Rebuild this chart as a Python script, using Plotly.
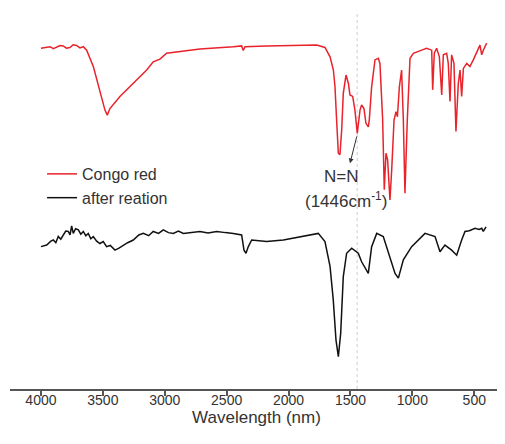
import plotly.graph_objects as go

# Congo red spectrum (wavenumber, relative transmittance)
red_w = [4000, 3960, 3927, 3900, 3873, 3845, 3820, 3795, 3766, 3740, 3712, 3685, 3658, 3631, 3577, 3524,
         3483, 3464, 3443, 3362, 3254, 3146, 3093, 3039, 2985, 2877, 2716, 2446, 2379, 2366, 2352,
         2177, 1908, 1773, 1706, 1665, 1638, 1625, 1612, 1598, 1585, 1571, 1558, 1536, 1517, 1504,
         1482, 1464, 1445, 1423, 1410, 1391, 1375, 1356, 1348, 1329, 1302, 1275, 1262, 1240, 1227,
         1213, 1200, 1181, 1167, 1148, 1132, 1121, 1105, 1087, 1073, 1060, 1041, 1019, 992, 965,
         925, 885, 844, 836, 823, 804, 782, 763, 750, 723, 710, 696, 683, 664, 648, 629, 615, 602,
         588, 561, 535, 508, 481, 454, 440, 427, 400]
red_t = [87.6, 87.9, 88.0, 87.5, 87.8, 88.3, 88.2, 87.6, 87.8, 88.5, 88.3, 87.7, 88.0, 87.1, 82.9, 76.9,
         71.7, 70.4, 72.1, 75.2, 78.6, 82.0, 84.1, 84.8, 86.3, 86.7, 87.4, 88.0, 88.2, 87.0, 88.0,
         88.2, 88.4, 88.4, 87.8, 85.4, 82.0, 77.7, 69.2, 60.6, 60.2, 66.6, 76.0, 80.7, 78.6, 75.6,
         75.2, 71.7, 65.7, 71.7, 73.0, 72.1, 68.3, 67.4, 69.2, 77.7, 84.6, 85.0, 83.7, 69.2, 51.2,
         60.6, 58.9, 48.6, 56.3, 69.2, 71.3, 70.0, 77.7, 82.0, 69.2, 50.3, 69.2, 85.0, 86.3, 86.7,
         87.1, 87.6, 87.1, 76.9, 86.3, 87.6, 85.4, 75.6, 85.9, 86.3, 83.7, 73.9, 85.9, 83.7, 66.2,
         78.6, 82.0, 75.2, 82.4, 83.7, 82.9, 84.6, 86.3, 88.4, 85.9, 87.1, 88.9]

# After reaction spectrum
blk_w = [4000, 3954, 3920, 3900, 3880, 3860, 3840, 3820, 3800, 3779, 3765, 3752, 3739, 3720, 3698, 3678,
         3658, 3638, 3618, 3597, 3577, 3550, 3524, 3497, 3470, 3440, 3402, 3370, 3335, 3300, 3254,
         3210, 3173, 3130, 3093, 3050, 3012, 2970, 2931, 2890, 2850, 2780, 2716, 2650, 2581, 2510,
         2446, 2379, 2360, 2344, 2325, 2298, 2177, 2042, 1908, 1760, 1706, 1665, 1639, 1617, 1598,
         1579, 1558, 1531, 1490, 1437, 1410, 1369, 1356, 1329, 1288, 1235, 1181, 1140, 1113, 1073,
         1006, 898, 817, 777, 737, 683, 642, 621, 602, 575, 540, 494, 460, 440, 427, 405]
blk_t = [36.6, 37.0, 38.0, 38.3, 37.6, 39.2, 38.5, 39.6, 40.6, 40.5, 39.6, 41.9, 40.0, 41.2, 40.9, 39.8,
         40.5, 39.4, 40.0, 38.6, 39.2, 38.0, 37.4, 37.9, 36.6, 36.9, 35.7, 36.2, 37.0, 37.6, 38.3,
         39.6, 40.0, 39.4, 40.5, 40.0, 40.9, 40.2, 40.0, 40.6, 40.0, 40.2, 40.5, 40.1, 40.5, 40.2,
         40.0, 39.6, 35.7, 34.9, 36.6, 38.3, 37.9, 38.3, 39.2, 40.0, 37.9, 31.5, 22.9, 12.6, 8.3,
         14.3, 28.9, 34.9, 36.2, 34.9, 32.7, 30.2, 29.7, 36.6, 40.0, 39.2, 34.0, 29.7, 28.5, 33.2,
         36.6, 40.0, 39.2, 35.3, 37.0, 35.7, 34.4, 36.6, 38.3, 40.5, 40.7, 41.3, 41.0, 41.3, 40.5, 41.7]

tick_vals = [4000, 3500, 3000, 2500, 2000, 1500, 1000, 500]
tick_text = [str(v) for v in tick_vals]

peak_w = 1446

FONT = "Liberation Sans, Arial, sans-serif"
TXT = "#333333"

fig = go.Figure()
fig.add_trace(go.Scatter(x=red_w, y=red_t, mode="lines", name="Congo red",
                         line=dict(color="#e8232b", width=1.5)))
fig.add_trace(go.Scatter(x=blk_w, y=blk_t, mode="lines", name="after reation",
                         line=dict(color="#111111", width=1.5)))

fig.add_shape(type="line", xref="x", yref="y", x0=peak_w, x1=peak_w, y0=0, y1=97.2,
              line=dict(color="#cccccc", width=1, dash="dot"), layer="below")

# arrow from the band minimum down to the label
fig.add_annotation(x=1504, y=58.0, ax=peak_w, ay=65.3, xref="x", yref="y",
                   axref="x", ayref="y", text="", showarrow=True, arrowhead=2,
                   arrowsize=1, arrowwidth=1, arrowcolor="#333333", standoff=0)
fig.add_annotation(x=1577, y=54.5, xref="x", yref="y", text="N=N", showarrow=False,
                   font=dict(family=FONT, size=17, color=TXT))
fig.add_annotation(x=1536, y=48.6, xref="x", yref="y", text="(1446cm<sup>-1</sup>)",
                   showarrow=False, font=dict(family=FONT, size=17, color=TXT))

fig.update_layout(
    width=497, height=436,
    margin=dict(l=2, r=2, t=0, b=55),
    paper_bgcolor="white", plot_bgcolor="white",
    font=dict(family=FONT, color=TXT),
    showlegend=True,
    legend=dict(x=0.065, y=0.609, xanchor="left", yanchor="top",
                font=dict(family=FONT, size=16, color=TXT),
                bgcolor="rgba(0,0,0,0)", tracegroupgap=0, itemwidth=30),
    xaxis=dict(range=[4250, 268], tickmode="array", tickvals=tick_vals, ticktext=tick_text,
               showgrid=False, zeroline=False, showline=True, linecolor="#555555", linewidth=1.5,
               ticks="outside", ticklen=5, tickwidth=1.5, tickcolor="#555555",
               ticklabelstandoff=-8,
               tickfont=dict(family=FONT, size=14, color=TXT),
               title=dict(text="Wavelength (nm)", font=dict(family=FONT, size=17, color=TXT),
                          standoff=0)),
    yaxis=dict(range=[0, 97.94], visible=False, showgrid=False, zeroline=False),
)

fig.write_html("out.html")
